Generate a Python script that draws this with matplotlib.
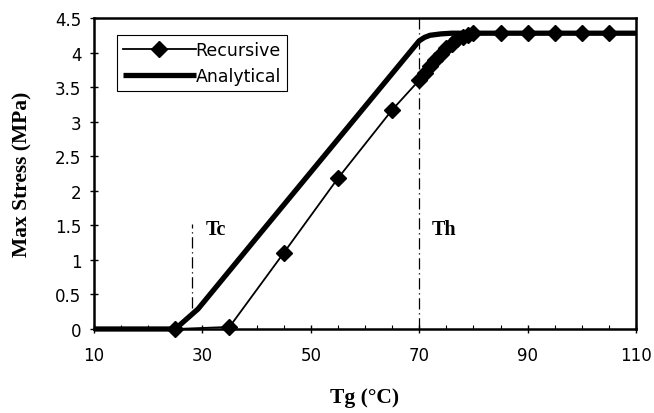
import matplotlib.pyplot as plt
from matplotlib.ticker import MultipleLocator

# Max stress vs glass transition temperature
rec_tg = [25, 35, 45, 55, 65, 70, 71, 72, 73, 74, 75, 76, 77, 78, 79, 80,
          85, 90, 95, 100, 105]
rec_stress = [0.0, 0.03, 1.1, 2.18, 3.17, 3.6, 3.7, 3.8, 3.89, 3.98, 4.06,
              4.13, 4.19, 4.23, 4.26, 4.28, 4.28, 4.28, 4.28, 4.28, 4.28]

ana_tg = [10, 25, 29.2, 40, 50, 60, 70, 71, 72, 74, 76, 110]
ana_stress = [0.0, 0.0, 0.29, 1.32, 2.27, 3.22, 4.17, 4.22, 4.25, 4.27, 4.28, 4.28]

x_ticks = [10, 30, 50, 70, 90, 110]
tc, th = 28, 70

serif = 'Liberation Serif'
sans = 'DejaVu Sans'

fig = plt.figure(figsize=(6.54, 4.14), dpi=100)
ax = fig.add_axes([0.1437, 0.2029, 0.8288, 0.7512])

ax.plot(rec_tg, rec_stress, color='black', lw=1.3, marker='D', ms=8.5,
        label='Recursive', zorder=4, clip_on=False)
ax.plot(ana_tg, ana_stress, color='black', lw=3.8, label='Analytical',
        solid_capstyle='butt', zorder=3, clip_on=False)

# critical temperatures
ax.plot([tc, tc], [0.3, 1.52], color='black', lw=0.9, ls=(0, (9, 3, 1, 3)))
ax.plot([th, th], [0, 4.5], color='black', lw=0.9, ls=(0, (9, 3, 1, 3)))
ax.text(30.6, 1.45, 'Tc', family=serif, weight='bold', fontsize=14.5, va='center')
ax.text(72.3, 1.45, 'Th', family=serif, weight='bold', fontsize=14.5, va='center')

ax.set_xlim(10, 110)
ax.set_ylim(0, 4.5)
ax.set_xticks(x_ticks)
ax.xaxis.set_minor_locator(MultipleLocator(5))
ax.yaxis.set_major_locator(MultipleLocator(0.5))
ax.yaxis.set_major_formatter(plt.FuncFormatter(lambda v, p: f'{v:g}'))
ax.tick_params(axis='both', which='major', direction='inout', length=6,
               width=1, labelsize=12)
ax.tick_params(axis='x', which='major', pad=9.5)
ax.tick_params(axis='y', which='major', pad=6)
ax.tick_params(axis='x', which='minor', direction='in', length=3, width=0.8)
for lab in ax.get_xticklabels() + ax.get_yticklabels():
    lab.set_family(sans)

for s in ax.spines.values():
    s.set_linewidth(1.8)

ax.set_xlabel('Tg (°C)', family=serif, weight='bold', fontsize=15.5, labelpad=16)
ax.set_ylabel('Max Stress (MPa)', family=serif, weight='bold', fontsize=15.5,
              labelpad=16)

leg = ax.legend(loc='upper left', bbox_to_anchor=(0.042, 0.945), fancybox=False,
                edgecolor='black', framealpha=1, borderpad=0.35,
                handlelength=4.2, handletextpad=0.0, labelspacing=0.45,
                borderaxespad=0, prop={'family': sans, 'size': 12.5})
leg.get_frame().set_linewidth(0.8)

fig.savefig('out.png', dpi=100)
